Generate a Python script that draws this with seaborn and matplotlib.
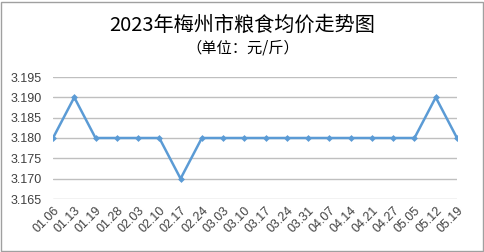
import matplotlib
matplotlib.use("Agg")
import matplotlib.pyplot as plt
import seaborn as sns
import pandas as pd
from matplotlib.patches import Rectangle

dates = ["01.06", "01.13", "01.19", "01.28", "02.03", "02.10", "02.17", "02.24",
         "03.03", "03.10", "03.17", "03.24", "03.31", "04.07", "04.14", "04.21",
         "04.27", "05.05", "05.12", "05.19"]
prices = [3.180, 3.190, 3.180, 3.180, 3.180, 3.180, 3.170, 3.180,
          3.180, 3.180, 3.180, 3.180, 3.180, 3.180, 3.180, 3.180,
          3.180, 3.180, 3.190, 3.180]
yticks = [3.165, 3.170, 3.175, 3.180, 3.185, 3.190, 3.195]
title = "2023年梅州市粮食均价走势图"
subtitle = "（单位：元/斤）"

sns.set_theme(style="white")
plt.rcParams['font.family'] = ['Noto Sans CJK SC', 'DejaVu Sans']

df = pd.DataFrame({"idx": range(len(dates)), "price": prices})

fig = plt.figure(figsize=(4.85, 2.52), dpi=100)
ax = fig.add_axes([53/485, 1 - 199/252, (457 - 53)/485, (199 - 77)/252])

sns.lineplot(data=df, x="idx", y="price", ax=ax, color="#5B9BD5", linewidth=1.8,
             marker="D", markersize=3.5, markeredgewidth=0, zorder=3)

ax.set_xlim(0, len(dates) - 1)
ax.set_ylim(yticks[0], yticks[-1])
ax.set_yticks(yticks)
ax.set_yticklabels([f"{v:.3f}" for v in yticks], fontsize=9, color="#404040",
                   family=['Liberation Sans', 'DejaVu Sans'])
ax.set_xticks(range(len(dates)))
ax.set_xticklabels(dates, rotation=45, ha="right", rotation_mode="anchor",
                   fontsize=9, color="#404040", family=['Liberation Sans', 'DejaVu Sans'])
ax.tick_params(axis="x", length=0, pad=4)
ax.tick_params(axis="y", length=0, pad=8)
ax.yaxis.grid(True, color="#BFBFBF", linewidth=1)
ax.set_axisbelow(True)
for s in ax.spines.values():
    s.set_visible(False)
ax.set_xlabel("")
ax.set_ylabel("")

fig.text(0.5, 1 - 25/252, title, ha="center", va="center", fontsize=14.5, color="#000000")
fig.text(0.5, 1 - 48/252, subtitle, ha="center", va="center", fontsize=11, color="#000000")

fig.patches.append(Rectangle((1.5/485, 1.5/252), 482/485, 249/252, transform=fig.transFigure,
                             fill=False, edgecolor="#A0A0A0", linewidth=1))

fig.savefig("out.png", dpi=100)
